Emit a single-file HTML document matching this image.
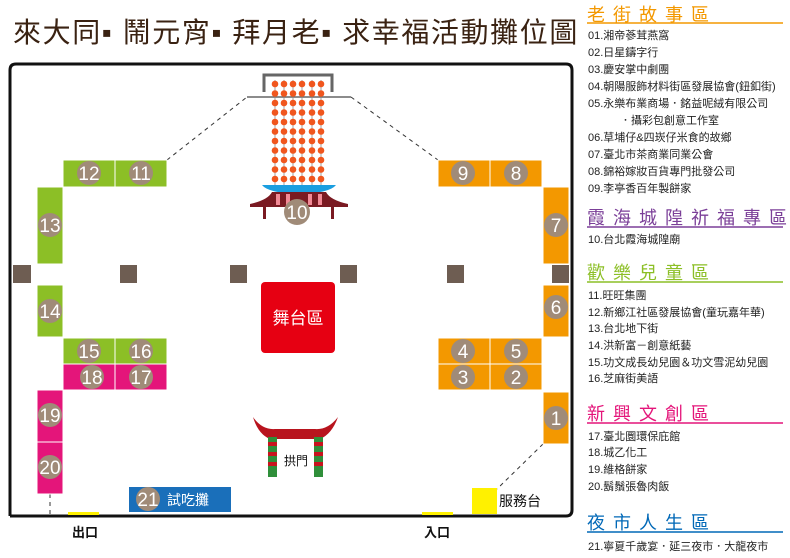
<!DOCTYPE html>
<html><head><meta charset="utf-8"><style>
html,body{margin:0;padding:0;background:#fff;}
svg{display:block;}
text{font-family:"Liberation Sans","Noto Sans CJK TC",sans-serif;}
</style></head><body>
<svg width="790" height="558" viewBox="0 0 790 558" xmlns="http://www.w3.org/2000/svg">
<text x="13" y="42" font-size="28" letter-spacing="1.6" fill="#3a2212">來大同▪ 鬧元宵▪ 拜月老▪ 求幸福活動攤位圖</text>
<!-- frame -->
<path d="M10 516 L10 70 Q10 64 16 64 L566 64 Q572 64 572 70 L572 510 Q572 516 566 516 L10 516" fill="none" stroke="#111" stroke-width="3"/>
<g stroke="#333" stroke-width="1" stroke-dasharray="4,4" fill="none">
<line x1="167" y1="160" x2="247" y2="97"/>
<line x1="351" y1="97" x2="438" y2="160"/>
<line x1="543" y1="444" x2="497" y2="489"/>
<line x1="50" y1="494" x2="50" y2="516"/>
</g>
<!-- lantern -->
<path d="M264 92 L264 75 L332 75 L332 92" fill="none" stroke="#666" stroke-width="3"/>
<line x1="247" y1="97" x2="351" y2="97" stroke="#666" stroke-width="1.5"/>
<g stroke="#888" stroke-width="0.8">
<line x1="275" y1="80" x2="275" y2="186"/><line x1="284" y1="80" x2="284" y2="186"/><line x1="293" y1="80" x2="293" y2="186"/><line x1="302" y1="80" x2="302" y2="186"/><line x1="312" y1="80" x2="312" y2="186"/><line x1="321" y1="80" x2="321" y2="186"/>
</g>
<g fill="#f0561e">
<circle cx="275" cy="84" r="3.3"/><circle cx="284" cy="84" r="3.3"/><circle cx="293" cy="84" r="3.3"/><circle cx="302" cy="84" r="3.3"/><circle cx="312" cy="84" r="3.3"/><circle cx="321" cy="84" r="3.3"/>
<circle cx="275" cy="93.5" r="3.3"/><circle cx="284" cy="93.5" r="3.3"/><circle cx="293" cy="93.5" r="3.3"/><circle cx="302" cy="93.5" r="3.3"/><circle cx="312" cy="93.5" r="3.3"/><circle cx="321" cy="93.5" r="3.3"/>
<circle cx="275" cy="103" r="3.3"/><circle cx="284" cy="103" r="3.3"/><circle cx="293" cy="103" r="3.3"/><circle cx="302" cy="103" r="3.3"/><circle cx="312" cy="103" r="3.3"/><circle cx="321" cy="103" r="3.3"/>
<circle cx="275" cy="112.5" r="3.3"/><circle cx="284" cy="112.5" r="3.3"/><circle cx="293" cy="112.5" r="3.3"/><circle cx="302" cy="112.5" r="3.3"/><circle cx="312" cy="112.5" r="3.3"/><circle cx="321" cy="112.5" r="3.3"/>
<circle cx="275" cy="122" r="3.3"/><circle cx="284" cy="122" r="3.3"/><circle cx="293" cy="122" r="3.3"/><circle cx="302" cy="122" r="3.3"/><circle cx="312" cy="122" r="3.3"/><circle cx="321" cy="122" r="3.3"/>
<circle cx="275" cy="131.5" r="3.3"/><circle cx="284" cy="131.5" r="3.3"/><circle cx="293" cy="131.5" r="3.3"/><circle cx="302" cy="131.5" r="3.3"/><circle cx="312" cy="131.5" r="3.3"/><circle cx="321" cy="131.5" r="3.3"/>
<circle cx="275" cy="141" r="3.3"/><circle cx="284" cy="141" r="3.3"/><circle cx="293" cy="141" r="3.3"/><circle cx="302" cy="141" r="3.3"/><circle cx="312" cy="141" r="3.3"/><circle cx="321" cy="141" r="3.3"/>
<circle cx="275" cy="150.5" r="3.3"/><circle cx="284" cy="150.5" r="3.3"/><circle cx="293" cy="150.5" r="3.3"/><circle cx="302" cy="150.5" r="3.3"/><circle cx="312" cy="150.5" r="3.3"/><circle cx="321" cy="150.5" r="3.3"/>
<circle cx="275" cy="160" r="3.3"/><circle cx="284" cy="160" r="3.3"/><circle cx="293" cy="160" r="3.3"/><circle cx="302" cy="160" r="3.3"/><circle cx="312" cy="160" r="3.3"/><circle cx="321" cy="160" r="3.3"/>
<circle cx="275" cy="169.5" r="3.3"/><circle cx="284" cy="169.5" r="3.3"/><circle cx="293" cy="169.5" r="3.3"/><circle cx="302" cy="169.5" r="3.3"/><circle cx="312" cy="169.5" r="3.3"/><circle cx="321" cy="169.5" r="3.3"/>
<circle cx="275" cy="179" r="3.3"/><circle cx="284" cy="179" r="3.3"/><circle cx="293" cy="179" r="3.3"/><circle cx="302" cy="179" r="3.3"/><circle cx="312" cy="179" r="3.3"/><circle cx="321" cy="179" r="3.3"/>
</g>
<!-- temple -->
<path d="M262 185 L336 185 Q330 193 299 194 Q268 193 262 185 Z" fill="#1a9ee0"/>
<path d="M250 204 Q268 200 272 192 L326 192 Q330 200 348 204 L348 207 L250 207 Z" fill="#7a1a22"/>
<g fill="#f28a96"><rect x="276" y="194" width="4" height="11"/><rect x="286" y="194" width="4" height="11"/><rect x="308" y="194" width="4" height="11"/><rect x="318" y="194" width="4" height="11"/></g>
<rect x="263" y="206" width="3" height="13" fill="#7a1a22"/><rect x="331" y="206" width="3" height="13" fill="#7a1a22"/>
<!-- stands -->
<g stroke="#fff" stroke-width="1">
<rect x="63" y="160" width="52" height="27" fill="#8cbf26"/><rect x="115" y="160" width="52" height="27" fill="#8cbf26"/>
<rect x="37" y="187" width="26" height="77" fill="#8cbf26"/>
<rect x="37" y="285" width="26" height="52" fill="#8cbf26"/>
<rect x="63" y="338" width="52" height="26" fill="#8cbf26"/><rect x="115" y="338" width="52" height="26" fill="#8cbf26"/>
<rect x="63" y="364" width="52" height="26" fill="#e4157a"/><rect x="115" y="364" width="52" height="26" fill="#e4157a"/>
<rect x="37" y="390" width="26" height="52" fill="#e4157a"/><rect x="37" y="442" width="26" height="52" fill="#e4157a"/>
<rect x="438" y="160" width="52" height="27" fill="#f39800"/><rect x="490" y="160" width="52" height="27" fill="#f39800"/>
<rect x="543" y="187" width="26" height="77" fill="#f39800"/>
<rect x="543" y="285" width="26" height="52" fill="#f39800"/>
<rect x="438" y="338" width="52" height="26" fill="#f39800"/><rect x="490" y="338" width="52" height="26" fill="#f39800"/>
<rect x="438" y="364" width="52" height="26" fill="#f39800"/><rect x="490" y="364" width="52" height="26" fill="#f39800"/>
<rect x="543" y="392" width="26" height="52" fill="#f39800"/>
</g>
<g fill="#6e5d52"><rect x="13" y="265" width="18" height="18"/><rect x="120" y="265" width="17" height="18"/><rect x="230" y="265" width="17" height="18"/><rect x="340" y="265" width="17" height="18"/><rect x="447" y="265" width="17" height="18"/><rect x="552" y="265" width="17" height="18"/></g>
<rect x="261" y="282" width="74" height="71" rx="4" fill="#e60012"/>
<text x="298" y="324" font-size="17" fill="#fff" text-anchor="middle">舞台區</text>
<g fill="#a08b78">
<circle cx="89" cy="173" r="12"/><circle cx="141" cy="173" r="12"/><circle cx="50" cy="225" r="12"/><circle cx="50" cy="311" r="12"/>
<circle cx="89" cy="351" r="12"/><circle cx="141" cy="351" r="12"/><circle cx="92" cy="377" r="12"/><circle cx="141" cy="377" r="12"/>
<circle cx="50" cy="415" r="12"/><circle cx="50" cy="467" r="12"/>
<circle cx="463" cy="173" r="12"/><circle cx="516" cy="173" r="12"/><circle cx="556" cy="225" r="12"/><circle cx="556" cy="307" r="12"/>
<circle cx="463" cy="351" r="12"/><circle cx="516" cy="351" r="12"/><circle cx="463" cy="377" r="12"/><circle cx="516" cy="377" r="12"/>
<circle cx="556" cy="418" r="12"/><circle cx="297" cy="212" r="13"/>
</g>
<g fill="#fff" font-size="19" text-anchor="middle">
<text x="89" y="180">12</text><text x="141" y="180">11</text><text x="50" y="232">13</text><text x="50" y="318">14</text>
<text x="89" y="358">15</text><text x="141" y="358">16</text><text x="92" y="384">18</text><text x="141" y="384">17</text>
<text x="50" y="422">19</text><text x="50" y="474">20</text>
<text x="463" y="180">9</text><text x="516" y="180">8</text><text x="556" y="232">7</text><text x="556" y="314">6</text>
<text x="463" y="358">4</text><text x="516" y="358">5</text><text x="463" y="384">3</text><text x="516" y="384">2</text>
<text x="556" y="425">1</text><text x="297" y="219">10</text>
</g>
<rect x="129" y="487" width="102" height="25" fill="#1a6fba"/>
<circle cx="148" cy="499" r="12" fill="#a08b78"/>
<text x="148" y="506" font-size="19" fill="#fff" text-anchor="middle">21</text>
<text x="167" y="505" font-size="14" fill="#fff">試吃攤</text>
<!-- arch -->
<path d="M253 417 Q262 430 275 429 L315 429 Q328 430 338 417 Q332 434 320 439 L270 439 Q258 434 253 417 Z" fill="#b8141e"/>
<rect x="268" y="437" width="9" height="40" fill="#2f8f3a"/><rect x="314" y="437" width="9" height="40" fill="#2f8f3a"/>
<g fill="#c8141e"><rect x="268" y="442" width="9" height="4"/><rect x="268" y="452" width="9" height="4"/><rect x="268" y="462" width="9" height="4"/><rect x="314" y="442" width="9" height="4"/><rect x="314" y="452" width="9" height="4"/><rect x="314" y="462" width="9" height="4"/></g>
<text x="284" y="465" font-size="12" fill="#111">拱門</text>
<rect x="472" y="488" width="25" height="26" fill="#fff100"/>
<text x="499" y="506" font-size="14" fill="#111">服務台</text>
<rect x="68" y="512" width="31" height="3" fill="#fff100"/>
<rect x="422" y="512" width="31" height="3" fill="#fff100"/>
<text x="72" y="537" font-size="13" fill="#111" font-weight="bold">出口</text>
<text x="424" y="537" font-size="13" fill="#111" font-weight="bold">入口</text>
<g font-size="18" letter-spacing="8">
<text x="587" y="21" fill="#f39800">老街故事區</text>
<text x="587" y="224" fill="#7b3f98">霞海城隍祈福專區</text>
<text x="587" y="279" fill="#8cbf26">歡樂兒童區</text>
<text x="587" y="420" fill="#e4157a">新興文創區</text>
<text x="587" y="529" fill="#0068b7">夜市人生區</text>
</g>
<line x1="587" y1="23" x2="783" y2="23" stroke="#f39800" stroke-width="1.5"/>
<line x1="587" y1="227" x2="783" y2="227" stroke="#7b3f98" stroke-width="1.5"/>
<line x1="587" y1="282" x2="783" y2="282" stroke="#8cbf26" stroke-width="1.5"/>
<line x1="587" y1="423" x2="783" y2="423" stroke="#e4157a" stroke-width="1.5"/>
<line x1="587" y1="532" x2="783" y2="532" stroke="#0068b7" stroke-width="1.5"/>
<g font-size="11" fill="#222">
<text x="588" y="39">01.湘帝蔘茸燕窩</text>
<text x="588" y="56">02.日星鑄字行</text>
<text x="588" y="73">03.慶安掌中劇團</text>
<text x="588" y="90">04.朝陽服飾材料街區發展協會(鈕釦街)</text>
<text x="588" y="107">05.永樂布業商場．銘益呢絨有限公司</text>
<text x="620" y="124">．攝彩包創意工作室</text>
<text x="588" y="141">06.草埔仔&amp;四崁仔米食的故鄉</text>
<text x="588" y="158">07.臺北市茶商業同業公會</text>
<text x="588" y="175">08.錦裕嫁妝百貨專門批發公司</text>
<text x="588" y="192">09.李亭香百年製餅家</text>
<text x="588" y="243">10.台北霞海城隍廟</text>
<text x="588" y="299">11.旺旺集團</text>
<text x="588" y="316">12.新鄉江社區發展協會(童玩嘉年華)</text>
<text x="588" y="332">13.台北地下街</text>
<text x="588" y="349">14.洪新富－創意紙藝</text>
<text x="588" y="366">15.功文成長幼兒園＆功文雪泥幼兒園</text>
<text x="588" y="382">16.芝麻街美語</text>
<text x="588" y="440">17.臺北圜環保庇館</text>
<text x="588" y="456">18.城乙化工</text>
<text x="588" y="473">19.維格餅家</text>
<text x="588" y="490">20.鬍鬚張魯肉飯</text>
<text x="588" y="550">21.寧夏千歲宴．延三夜市．大龍夜市</text>
</g>
</svg>
</body></html>
